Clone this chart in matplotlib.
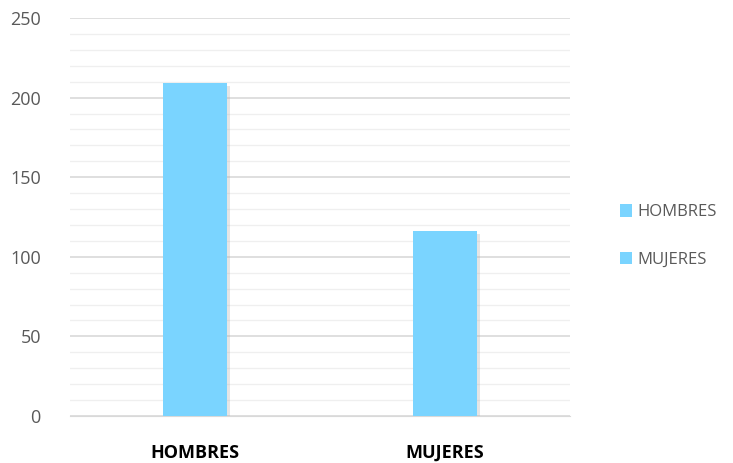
import matplotlib
matplotlib.use("Agg")
import matplotlib.pyplot as plt
import matplotlib.patheffects as pe
from matplotlib.patches import Patch

# datos
categorias = ["HOMBRES", "MUJERES"]
valores = [209, 116]
color_barra = "#7AD4FF"

plt.rcParams["font.family"] = ["Open Sans", "DejaVu Sans"]

fig = plt.figure(figsize=(7.33, 4.63), dpi=100)
ax = fig.add_axes([0.0955, 0.1015, 0.682, 0.8595])

barras = ax.bar(range(len(categorias)), valores, width=0.256, color=color_barra, zorder=3)
for b in barras:
    b.set_path_effects([pe.withSimplePatchShadow(offset=(2, -2), shadow_rgbFace="#aaaaaa", alpha=0.3), pe.Normal()])

ax.set_xlim(-0.5, 1.5)
ax.set_ylim(0, 250)
ax.set_yticks(range(0, 251, 50))
ax.set_yticks(range(0, 251, 10), minor=True)
ax.grid(axis="y", which="major", color="#D9D9D9", linewidth=1.2, zorder=0)
ax.grid(axis="y", which="minor", color="#EFEFEF", linewidth=0.9, zorder=0)

ax.set_xticks(range(len(categorias)))
ax.set_xticklabels(categorias, fontweight="bold", fontsize=13, color="black")
ax.tick_params(axis="y", labelsize=13, labelcolor="#595959", length=0, pad=21)
ax.tick_params(axis="x", length=0, pad=20)
ax.tick_params(which="minor", length=0)

for lado in ["top", "right", "left"]:
    ax.spines[lado].set_visible(False)
ax.spines["bottom"].set_color("#D9D9D9")

handles = [Patch(facecolor=color_barra, label=c) for c in categorias]
fig.legend(handles=handles, loc="center left", bbox_to_anchor=(0.825, 0.49),
           frameon=False, fontsize=12, labelcolor="#595959",
           handlelength=0.75, handleheight=0.75, handletextpad=0.3, labelspacing=1.9)

fig.savefig("out.png", dpi=100)
